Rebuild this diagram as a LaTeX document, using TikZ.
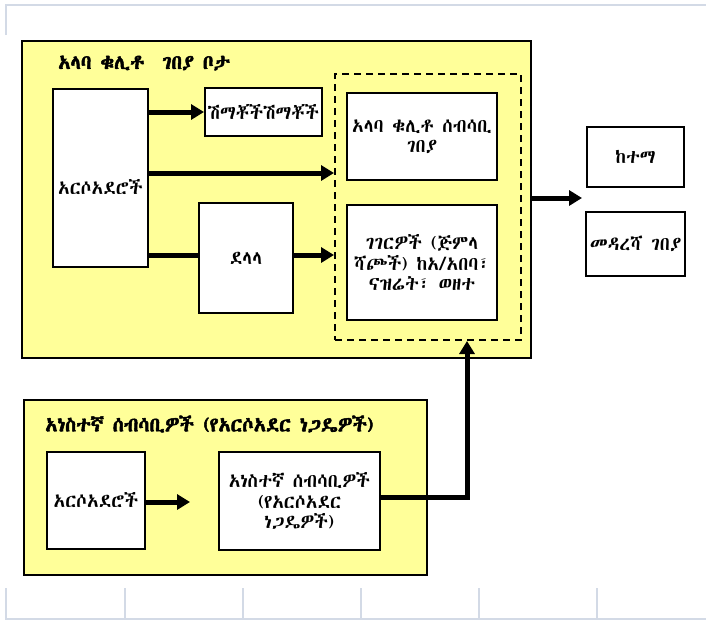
\documentclass[tikz,border=0pt]{standalone}
\usepackage{fontspec}
\IfFontExistsTF{Abyssinica SIL}{\setmainfont[AutoFakeBold=2.5]{Abyssinica SIL}}{%
 \IfFontExistsTF{Noto Sans Ethiopic}{\setmainfont[AutoFakeBold=2]{Noto Sans Ethiopic}}{%
  \IfFontExistsTF{FreeSerif}{\setmainfont[AutoFakeBold=2]{FreeSerif}}{\setmainfont{Noto Sans}}}}
\usetikzlibrary{arrows.meta}
\definecolor{ylw}{HTML}{FFFF99}
\definecolor{grid}{HTML}{D3DAE6}
\tikzset{
  panel/.style={draw, line width=2.5pt, fill=ylw, rectangle, inner sep=0pt},
  wbox/.style={draw, line width=2pt, fill=white, rectangle, inner sep=0pt, align=center,
     font=\fontsize{19}{20.5}\selectfont},
  dbox/.style={draw, line width=2pt, dashed, dash pattern=on 7pt off 5pt, rectangle, inner sep=0pt},
  ttl/.style={font=\fontsize{20}{22}\selectfont\bfseries, anchor=west, inner sep=0pt},
  arr/.style={line width=5pt, -{Triangle[length=13pt,width=15pt]}},
  ln/.style={line width=5pt},
  gridln/.style={draw=grid, line width=2pt}
}
\begin{document}
\begin{tikzpicture}[x=1pt,y=-1pt]
\useasboundingbox (0,0) rectangle (706,621);
% light grid lines
\draw[gridln] (6,35) -- (6,5) -- (706,5);
\draw[gridln] (5,619) -- (706,619);
\foreach \gx in {6,125,243,361,479,597} \draw[gridln] (\gx,588) -- (\gx,619);
% upper panel
\node[panel, minimum width=509pt, minimum height=317pt] (up) at (276.5,199.5) {};
\node[ttl] (t1) at (58,63) {አላባ ቁሊቶ \ ገበያ ቦታ};
\node[wbox, minimum width=95pt, minimum height=178pt, text height=32pt, text depth=0pt] (farm1) at (100.5,178) {አርሶአደሮች};
\node[wbox, minimum width=117pt, minimum height=48pt] (shim) at (263.5,112) {ሽማቾችሽማቾች};
\node[wbox, minimum width=94pt, minimum height=110pt] (dalala) at (246,258) {ደላላ};
\node[dbox, minimum width=186pt, minimum height=266pt] (dash) at (428,207) {};
\node[wbox, minimum width=150pt, minimum height=87pt] (col) at (422,136.5) {አላባ ቁሊቶ ሰብሳቢ\\ገበያ};
\node[wbox, minimum width=150pt, minimum height=115pt] (whole) at (422,262.5) {ገገርዎች (ጅምላ\\ሻጮች) ከአ/አበባ፣\\ናዝሬት፣ ወዘተ};
% right boxes
\node[wbox, minimum width=97pt, minimum height=60pt] (town) at (635.5,157) {ከተማ};
\node[wbox, minimum width=99pt, minimum height=64pt] (dest) at (635.5,244) {መዳረሻ ገበያ};
% lower panel
\node[panel, minimum width=403pt, minimum height=175pt] (low) at (225.5,487.5) {};
\node[ttl] (t2) at (45,424) {አነስተኛ ሰብሳቢዎች (የአርሶአደር ነጋዴዎች)};
\node[wbox, minimum width=98pt, minimum height=97pt] (farm2) at (96,500.5) {አርሶአደሮች};
\node[wbox, minimum width=161pt, minimum height=98pt] (small) at (299.5,501) {አነስተኛ ሰብሳቢዎች\\(የአርሶአደር\\ነጋዴዎች)};
% coordinates
\coordinate (y173) at (0,173);
\coordinate (y255) at (0,255);
\coordinate (y198) at (0,198);
\coordinate (y497) at (0,497);
\coordinate (y502) at (0,502);
\coordinate (x467) at (467,0);
\coordinate (rt) at (582,198);
\coordinate (x190) at (190,0);
% connectors
\draw[arr] (farm1.east |- shim.west) -- (shim.west);
\draw[arr] (farm1.east |- y173) -- (dash.west |- y173);
\draw[ln] (farm1.east |- y255) -- (dalala.west |- y255);
\draw[arr] (dalala.east |- y255) -- (dash.west |- y255);
\draw[arr] (up.east |- y198) -- (rt);
\draw[arr] (farm2.east |- y502) -- (x190 |- y502);
\draw[arr] (small.east |- y497) -| (x467 |- dash.south);
\end{tikzpicture}
\end{document}
